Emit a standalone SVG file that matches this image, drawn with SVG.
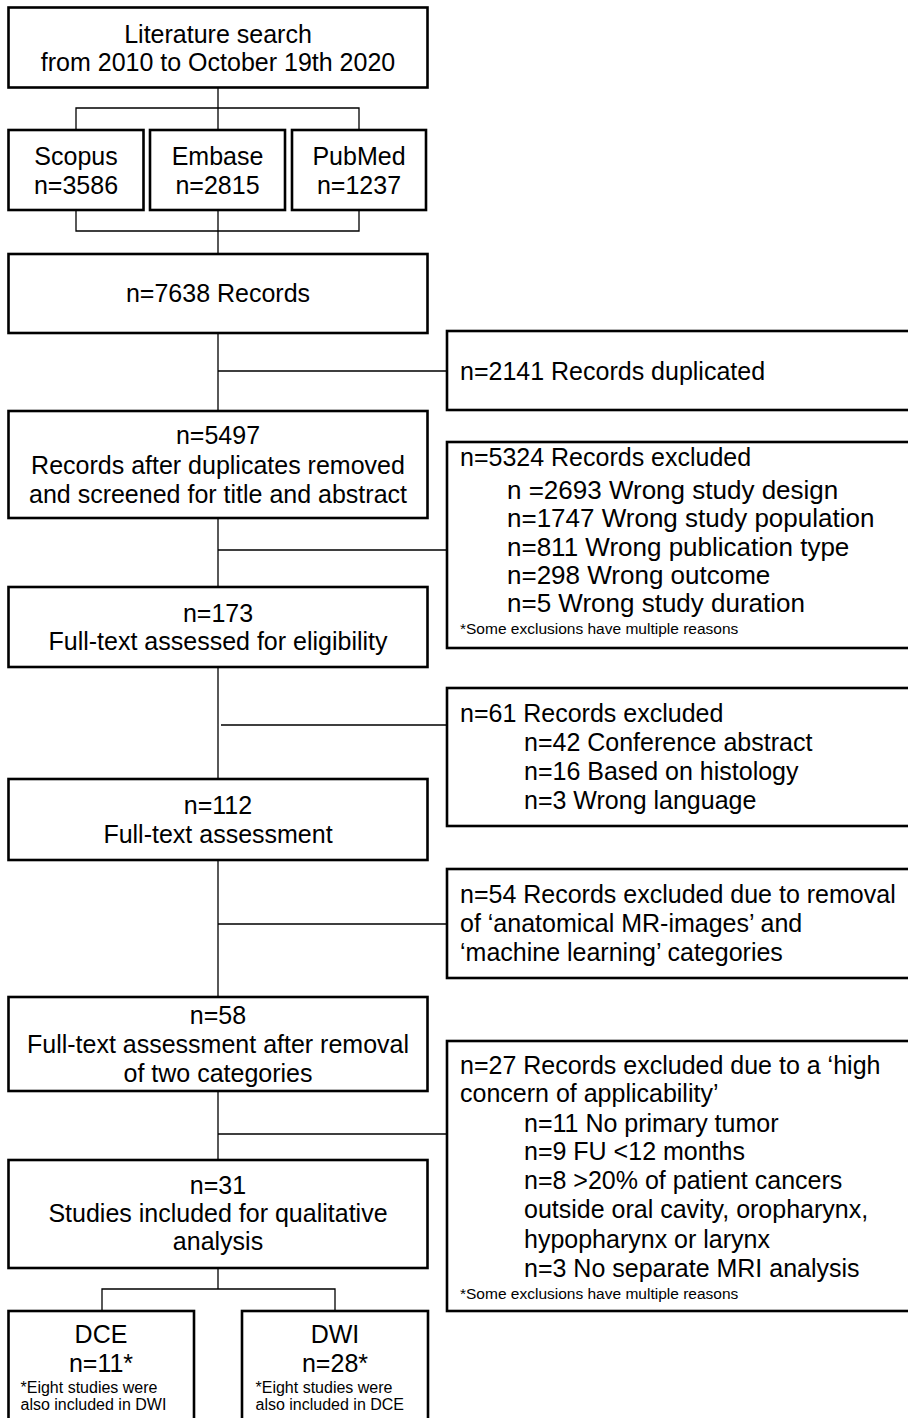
<svg xmlns="http://www.w3.org/2000/svg" width="908" height="1418" viewBox="0 0 908 1418">
<style>
  .box { fill: #ffffff; stroke: #000000; stroke-width: 2.6; }
  .conn { fill: none; stroke: #000000; stroke-width: 1.3; }
  text { font-family: "Liberation Sans", Arial, sans-serif; font-size: 25px; fill: #000000; }
  .c { text-anchor: middle; }
  .big { font-size: 26px; }
  .note { font-size: 15.5px; }
  .note2 { font-size: 16px; }
</style>
<rect x="0" y="0" width="908" height="1418" fill="#ffffff"/>
<g id="connectors">
  <path class="conn" d="M218,87 V130 M76,130 V108 H359 V130"/>
  <path class="conn" d="M76,210 V231 H359 V210 M218,210 V254"/>
  <path class="conn" d="M218,333 V411 M218,371 H447"/>
  <path class="conn" d="M218,518 V587 M218,550 H447"/>
  <path class="conn" d="M218,667 V779 M221,725 H447"/>
  <path class="conn" d="M218,860 V997 M218,924 H447"/>
  <path class="conn" d="M218,1091 V1160 M218,1134 H451"/>
  <path class="conn" d="M218,1268 V1289 M102,1311 V1289 H335 V1311"/>
</g>
<g id="literature-search">
  <rect class="box" x="8.5" y="7.5" width="419" height="80"/>
  <text class="c" x="218" y="42.5">Literature search</text>
  <text class="c" x="218" y="71">from 2010 to October 19th 2020</text>
</g>
<g id="scopus">
  <rect class="box" x="8.5" y="130" width="135" height="80"/>
  <text class="c" x="76" y="165">Scopus</text>
  <text class="c" x="76" y="193.5">n=3586</text>
</g>
<g id="embase">
  <rect class="box" x="150" y="130" width="135" height="80"/>
  <text class="c" x="217.5" y="165">Embase</text>
  <text class="c" x="217.5" y="193.5">n=2815</text>
</g>
<g id="pubmed">
  <rect class="box" x="292" y="130" width="134" height="80"/>
  <text class="c" x="359" y="165">PubMed</text>
  <text class="c" x="359" y="193.5">n=1237</text>
</g>
<g id="records-7638">
  <rect class="box" x="8.5" y="254" width="419" height="79"/>
  <text class="c" x="218" y="302">n=7638 Records</text>
</g>
<g id="duplicated-2141">
  <rect class="box" x="447" y="331" width="465" height="79"/>
  <text x="460" y="380">n=2141 Records duplicated</text>
</g>
<g id="records-5497">
  <rect class="box" x="8.5" y="411" width="419" height="107"/>
  <text class="c" x="218" y="443.5">n=5497</text>
  <text class="c" x="218" y="473.5">Records after duplicates removed</text>
  <text class="c" x="218" y="502.5">and screened for title and abstract</text>
</g>
<g id="excluded-5324">
  <rect class="box" x="447" y="442" width="465" height="206"/>
  <text x="460" y="466">n=5324 Records excluded</text>
  <text class="big" x="507" y="498.5">n =2693 Wrong study design</text>
  <text class="big" x="507" y="527">n=1747 Wrong study population</text>
  <text class="big" x="507" y="555.5">n=811 Wrong publication type</text>
  <text class="big" x="507" y="583.5">n=298 Wrong outcome</text>
  <text class="big" x="507" y="612">n=5 Wrong study duration</text>
  <text class="note" x="460" y="634">*Some exclusions have multiple reasons</text>
</g>
<g id="records-173">
  <rect class="box" x="8.5" y="587" width="419" height="80"/>
  <text class="c" x="218" y="621.5">n=173</text>
  <text class="c" x="218" y="650">Full-text assessed for eligibility</text>
</g>
<g id="excluded-61">
  <rect class="box" x="447" y="688" width="465" height="138"/>
  <text x="460" y="721.5">n=61 Records excluded</text>
  <text x="524" y="751">n=42 Conference abstract</text>
  <text x="524" y="780">n=16 Based on histology</text>
  <text x="524" y="809">n=3 Wrong language</text>
</g>
<g id="records-112">
  <rect class="box" x="8.5" y="779" width="419" height="81"/>
  <text class="c" x="218" y="813.5">n=112</text>
  <text class="c" x="218" y="843">Full-text assessment</text>
</g>
<g id="excluded-54">
  <rect class="box" x="447" y="869" width="465" height="109"/>
  <text x="460" y="902.5">n=54 Records excluded due to removal</text>
  <text x="460" y="931.5">of ‘anatomical MR-images’ and</text>
  <text x="460" y="960.5">‘machine learning’ categories</text>
</g>
<g id="records-58">
  <rect class="box" x="8.5" y="997" width="419" height="94"/>
  <text class="c" x="218" y="1023.5">n=58</text>
  <text class="c" x="218" y="1053">Full-text assessment after removal</text>
  <text class="c" x="218" y="1081.5">of two categories</text>
</g>
<g id="excluded-27">
  <rect class="box" x="447" y="1041" width="465" height="270"/>
  <text x="460" y="1073.5">n=27 Records excluded due to a ‘high</text>
  <text x="460" y="1101.5">concern of applicability’</text>
  <text x="524" y="1131.5">n=11 No primary tumor</text>
  <text x="524" y="1160">n=9 FU &lt;12 months</text>
  <text x="524" y="1188.5">n=8 &gt;20% of patient cancers</text>
  <text x="524" y="1218">outside oral cavity, oropharynx,</text>
  <text x="524" y="1248">hypopharynx or larynx</text>
  <text x="524" y="1277">n=3 No separate MRI analysis</text>
  <text class="note" x="460" y="1298.5">*Some exclusions have multiple reasons</text>
</g>
<g id="studies-31">
  <rect class="box" x="8.5" y="1160" width="419" height="108"/>
  <text class="c" x="218" y="1193.5">n=31</text>
  <text class="c" x="218" y="1221.5">Studies included for qualitative</text>
  <text class="c" x="218" y="1250">analysis</text>
</g>
<g id="dce">
  <rect class="box" x="8.5" y="1311" width="185.5" height="120"/>
  <text class="c" x="101" y="1342.5">DCE</text>
  <text class="c" x="101" y="1371.5">n=11*</text>
  <text class="note2" x="20.5" y="1392.5">*Eight studies were</text>
  <text class="note2" x="20.5" y="1409.5">also included in DWI</text>
</g>
<g id="dwi">
  <rect class="box" x="242" y="1311" width="186" height="120"/>
  <text class="c" x="335" y="1342.5">DWI</text>
  <text class="c" x="335" y="1371.5">n=28*</text>
  <text class="note2" x="255.5" y="1392.5">*Eight studies were</text>
  <text class="note2" x="255.5" y="1409.5">also included in DCE</text>
</g>
</svg>
